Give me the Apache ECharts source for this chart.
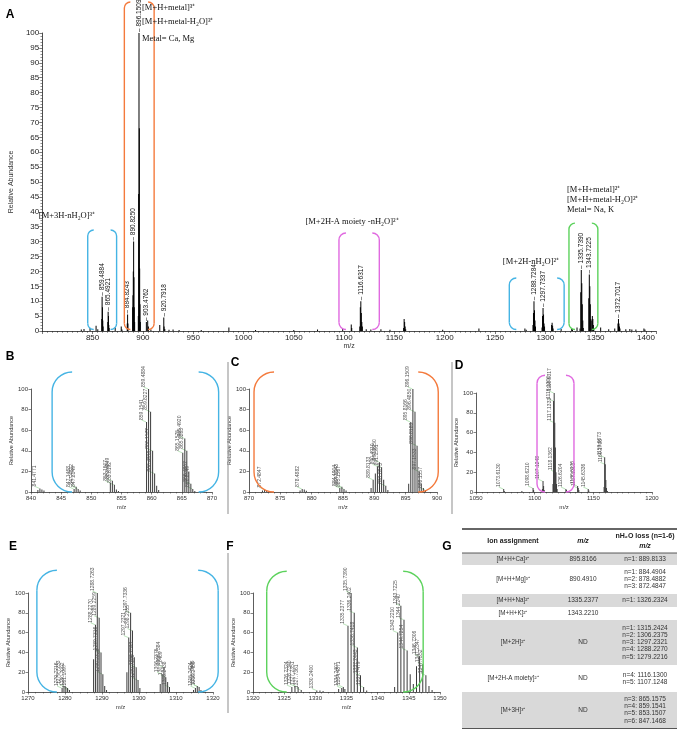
<!DOCTYPE html>
<html>
<head>
<meta charset="utf-8">
<script src="https://cdn.jsdelivr.net/npm/echarts@6/dist/echarts.min.js"></script>
<style>
html, body { margin: 0; padding: 0; background: #fff; }
#chart { width: 677px; height: 731px; }
</style>
</head>
<body>
<div id="chart"></div>
<script>
// peaks: [m/z, relative abundance, 1 = labelled]
var peaksA = [
  [838.8,0.5],[841.5,0.7],[847.5,1.0],[853.5,1.8],[855.2,0.6],
  [859.15,4],[859.4884,11.5,1],[859.82,8],[860.16,3.5],[860.5,1.5],
  [865.16,3],[865.4921,6.5,1],[865.83,5],[866.16,2],[866.5,1],
  [872.5,1.2],[878.5,1.5],[879.2,0.5],
  [884.49,2.5],[884.8243,5.5,1],[885.16,2.5],
  [889.81,8],[890.16,12],[890.49,20],[890.8250,30,1],[891.16,18],[891.49,8],[891.83,3],
  [895.48,5],[895.82,46],[896.1509,100,1],[896.49,68],[896.82,21],[897.15,9],[897.49,3],
  [903.4762,3,1],[904.8,3.5],[905.5,1.5],[908,0.5],
  [916.8,2],[920.7918,4.5,1],[921.1,1.5],[921.8,0.7],[926,0.4],[930,0.5],[936,0.3],[958,0.3],
  [985.5,1.2],[1012,0.3],[1050,0.3],[1073.6,0.5],[1098.6,0.8],
  [1107.12,2.2],[1107.6,1],
  [1115.63,1.5],[1116.13,8],[1116.6317,10,1],[1117.13,6],[1117.63,3],[1118.14,1.5],
  [1122,0.6],[1126.6,0.5],[1136.6,0.6],[1145.6,0.4],
  [1159.17,1],[1159.67,4],[1160.17,3],[1160.67,1.5],[1161.2,0.6],[1198,0.4],[1234,0.8],
  [1279.7,0.8],[1281,0.4],
  [1287.73,2],[1288.23,6],[1288.7284,10,1],[1289.23,7],[1289.73,3.5],[1290.23,1.5],
  [1296.73,1.2],[1297.23,5],[1297.7337,7.7,1],[1298.23,5.5],[1298.73,2.5],[1299.23,1.5],
  [1306.24,2],[1306.74,2.8],[1307.24,1.8],[1307.74,0.8],[1315.7,0.7],
  [1326.2,0.8],[1327,0.6],[1331.5,1.2],[1334.5,0.8],
  [1335.24,13],[1335.7390,20.5,1],[1336.24,16],[1336.74,9],[1337.24,3.5],[1337.74,1],
  [1343.22,11],[1343.7225,19,1],[1344.22,15],[1344.72,9],[1345.22,4],[1346.2,3.5],[1346.73,5],[1347.23,4],[1347.73,2],[1348.2,1],
  [1355,1.2],[1363,0.6],[1369,0.8],
  [1372.2,2.5],[1372.7017,4,1],[1373.2,2.5],[1373.7,1.5],[1374.2,0.8],
  [1380,0.6],[1384,0.7],[1386,0.5],[1390,0.5],[1398,0.8],[1399,0.5]
];
var peaksB = [
  [841.14,2],[841.4771,3.5,1],[841.81,2.5],[842.15,1.5],
  [847.1468,3,1],[847.4812,5,1],[847.8149,3,1],[848.15,1.5],
  [853.1507,9,1],[853.4849,11,1],[853.8192,7,1],[854.15,2.5],[854.49,1],
  [859.1541,68,1],[859.4884,100,1],[859.8227,78,1],[860.1572,40,1],[860.4916,18,1],[860.83,6],[861.16,2],
  [865.1575,38,1],[865.4920,52,1],[865.8263,40,1],[866.16,20],[866.4952,8,1],[866.8149,3,1],[867.15,1]
];
var peaksC = [
  [872.15,1.5],[872.4847,2.5,1],[872.82,1.5],
  [878.15,1.5],[878.4882,3,1],[878.82,2.5],[879.15,1.2],
  [884.4904,4,1],[884.8243,5,1],[885.1587,3,1],[885.49,1.5],
  [889.48,4],[889.8133,12,1],[890.16,18],[890.4910,25,1],[890.8250,29,1],[891.1591,24,1],[891.49,12],[891.8273,6,1],[892.16,2],
  [895.48,8],[895.8166,68,1],[896.1509,100,1],[896.4850,78,1],[896.8183,45,1],[897.1533,20,1],[897.49,8],[897.82,4],[898.1557,2,1]
];
var peaksD = [
  [1073.6130,3,1],[1074.1,1],[1089.1,1],[1098.6210,4,1],[1099.1,2],
  [1106.62,3],[1107.1248,11,1],[1107.62,6],[1108.12,2],
  [1115.63,8],[1116.1300,92,1],[1116.6317,100,1],[1117.1333,70,1],[1117.63,45],[1118.1362,20,1],[1118.64,8],[1119.14,3],
  [1126.6204,3,1],[1127.12,2],[1136.6275,6,1],[1137.1303,4,1],[1137.63,2],[1145.6336,3,1],[1146.13,1.5],
  [1159.17,5],[1159.6673,35,1],[1160.1706,28,1],[1160.67,12],[1161.17,4],[1162,1]
];
var peaksE = [
  [1279.2216,4,1],[1279.7233,6,1],[1280.22,5],[1280.7002,4,1],[1281.1997,2,1],
  [1287.73,33],[1288.2270,68,1],[1288.7263,100,1],[1289.2259,75,1],[1289.7316,40,1],[1290.2328,18,1],[1290.73,6],[1291.23,2],
  [1296.73,20],[1297.2321,55,1],[1297.7336,80,1],[1298.2355,62,1],[1298.73,35],[1299.2393,25,1],[1299.7396,12,1],[1300.24,4],
  [1305.74,8],[1306.2375,18,1],[1306.7384,25,1],[1307.2409,15,1],[1307.74,10],[1308.2438,5,1],
  [1314.74,2],[1315.2424,4,1],[1315.7446,6,1],[1316.2450,5,1],[1316.74,2]
];
var peaksF = [
  [1326.2324,5,1],[1326.7340,6,1],[1327.2351,5,1],[1327.7361,2,1],[1330.2400,1.5,1],[1330.74,1.5],[1331.24,1],
  [1333.74,3],[1334.2407,4,1],[1334.4871,5,1],[1334.74,3],
  [1335.2377,67,1],[1335.7390,100,1],[1336.2402,80,1],[1336.7418,45,1],[1337.2443,17,1],[1337.7479,5,1],[1338.24,1.5],
  [1342.72,5],[1343.2210,60,1],[1343.7225,87,1],[1344.2240,73,1],[1344.7254,42,1],[1345.22,18],[1345.72,8],
  [1346.23,26],[1346.7306,36,1],[1347.2347,28,1],[1347.7352,17,1],[1348.23,6],[1348.73,2]
];

// table G
var tableRows = [
  ['[M+H+Ca]³⁺', '895.8166', ['n=1: 889.8133']],
  ['[M+H+Mg]³⁺', '890.4910', ['n=1: 884.4904', 'n=2: 878.4882', 'n=3: 872.4847']],
  ['[M+H+Na]²⁺', '1335.2377', ['n=1: 1326.2324']],
  ['[M+H+K]²⁺', '1343.2210', []],
  ['[M+2H]²⁺', 'ND', ['n=1: 1315.2424', 'n=2: 1306.2375', 'n=3: 1297.2321', 'n=4: 1288.2270', 'n=5: 1279.2216']],
  ['[M+2H-A moiety]²⁺', 'ND', ['n=4: 1116.1300', 'n=5: 1107.1248']],
  ['[M+3H]³⁺', 'ND', ['n=3: 865.1575', 'n=4: 859.1541', 'n=5: 853.1507', 'n=6: 847.1468']]
];
var rowH = [12, 29, 13, 13, 45, 27, 36];

// brackets: [grid, left m/z, right m/z, bottom, top, radius px, colour]
var BLUE = '#45b4e4', ORANGE = '#f47a3c', PINK = '#e06ae0', GREEN = '#5cd25c';
var brackets = [
  [0, 845.2, 873.9, 0.5, 33.9, 6, BLUE],
  [0, 881.6, 911.2, 0.5, 110.4, 6, ORANGE],
  [0, 1094.9, 1135, 0.5, 32.9, 7, PINK],
  [0, 1264.2, 1318.7, 0.5, 17.8, 7, BLUE],
  [0, 1323.5, 1352.2, 0.5, 36.2, 6, GREEN],
  [1, 843.5, 871.1, 0, 116.5, 20, BLUE],
  [2, 870.8, 900.2, 0, 116.5, 20, ORANGE],
  [3, 1102, 1133.5, 0, 118, 8, PINK],
  [4, 1272.4, 1321.4, 0, 123, 20, BLUE],
  [5, 1322.2, 1347.3, 0, 122, 20, GREEN]
];

var SANS = 'Liberation Sans, Arial, sans-serif';
var SERIF = 'Liberation Serif, Times New Roman, serif';
function plain(v) { return String(v); }

var grids = [
  { left: 20, top: 33, width: 636, height: 298 },
  { left: 31, top: 389, width: 181, height: 103 },
  { left: 249, top: 389, width: 188, height: 103 },
  { left: 476, top: 393, width: 176, height: 99 },
  { left: 28, top: 593, width: 185, height: 99 },
  { left: 253, top: 593, width: 187, height: 99 }
];

function smallX(gi, min, max, interval, minor) {
  return {
    type: 'value', gridIndex: gi, min: min, max: max, interval: interval,
    name: 'm/z', nameLocation: 'middle', nameGap: 12,
    nameTextStyle: { fontSize: 6, color: '#333', fontFamily: SANS },
    axisLine: { lineStyle: { color: '#333', width: 0.8 } },
    axisTick: { length: 2.5, lineStyle: { color: '#333', width: 0.6 } },
    minorTick: { show: true, splitNumber: minor, length: 1.5, lineStyle: { color: '#333', width: 0.5 } },
    axisLabel: { fontSize: 6, color: '#333', margin: 3, fontFamily: SANS, formatter: plain },
    splitLine: { show: false }
  };
}
function smallY(gi) {
  return {
    type: 'value', gridIndex: gi, min: 0, max: 100, interval: 20,
    name: 'Relative Abundance', nameLocation: 'middle', nameGap: 17,
    nameTextStyle: { fontSize: 5.5, color: '#333', fontFamily: SANS },
    axisLine: { show: true, lineStyle: { color: '#333', width: 0.8 } },
    axisTick: { show: true, length: 2.5, lineStyle: { color: '#333', width: 0.6 } },
    axisLabel: { fontSize: 6, color: '#333', margin: 3, fontFamily: SANS },
    splitLine: { show: false }
  };
}
function stickData(peaks) {
  return peaks.map(function (p) {
    return { value: [p[0], p[1]], label: { show: !!p[2] } };
  });
}
function smallSeries(gi, peaks) {
  return {
    type: 'bar', xAxisIndex: gi, yAxisIndex: gi, barWidth: 1,
    itemStyle: { color: '#3a3a3a' },
    label: {
      show: false, position: 'top', rotate: 90, align: 'left', verticalAlign: 'middle',
      distance: 2, fontSize: 5, color: '#555', fontFamily: SANS,
      formatter: function (p) { return p.value[0].toFixed(4); }
    },
    labelLayout: { dy: -5 },
    labelLine: { show: true, lineStyle: { color: '#8fd38f', width: 0.6 } },
    data: stickData(peaks)
  };
}

var option = {
  animation: false,
  grid: grids,
  xAxis: [
    {
      type: 'value', gridIndex: 0, min: 800, max: 1410, interval: 50,
      name: 'm/z', nameLocation: 'middle', nameGap: 12,
      nameTextStyle: { fontSize: 7, color: '#333', fontFamily: SANS },
      axisLine: { lineStyle: { color: '#222', width: 0.8 } },
      axisTick: { length: 3, lineStyle: { color: '#222', width: 0.6 } },
      minorTick: { show: true, splitNumber: 10, length: 1.8, lineStyle: { color: '#222', width: 0.5 } },
      axisLabel: { fontSize: 8, color: '#222', margin: 3, showMinLabel: false, showMaxLabel: false, fontFamily: SANS, formatter: plain },
      splitLine: { show: false }
    },
    smallX(1, 840, 870, 5, 5),
    smallX(2, 870, 900, 5, 5),
    smallX(3, 1050, 1200, 50, 10),
    smallX(4, 1270, 1320, 10, 5),
    smallX(5, 1320, 1350, 5, 5)
  ],
  yAxis: [
    {
      type: 'value', gridIndex: 0, min: 0, max: 100, interval: 5,
      name: 'Relative Abundance', nameLocation: 'middle', nameGap: 17,
      nameTextStyle: { fontSize: 7, color: '#333', fontFamily: SANS },
      axisLine: { show: true, lineStyle: { color: '#222', width: 0.8 } },
      axisTick: { show: true, length: 3, lineStyle: { color: '#222', width: 0.6 } },
      minorTick: { show: true, splitNumber: 5, length: 1.8, lineStyle: { color: '#222', width: 0.5 } },
      axisLabel: { fontSize: 8, color: '#222', margin: 3, fontFamily: SANS },
      splitLine: { show: false }
    },
    smallY(1), smallY(2), smallY(3), smallY(4), smallY(5)
  ],
  series: [
    {
      type: 'bar', xAxisIndex: 0, yAxisIndex: 0, barWidth: 1,
      itemStyle: { color: '#000' },
      label: {
        show: false, position: 'top', rotate: 90, align: 'left', verticalAlign: 'middle',
        distance: 1, fontSize: 6.5, color: '#111', fontFamily: SANS,
        formatter: function (p) { return '– ' + p.value[0].toFixed(4); }
      },
      data: stickData(peaksA)
    },
    smallSeries(1, peaksB),
    smallSeries(2, peaksC),
    smallSeries(3, peaksD),
    smallSeries(4, peaksE),
    smallSeries(5, peaksF)
  ]
};

var chart = echarts.init(document.getElementById('chart'));
chart.setOption(option);

var graphics = [];
function txt(t, x, y, size, opts) {
  opts = opts || {};
  graphics.push({
    type: 'text', x: x, y: y, z: 10,
    style: {
      text: t, fontSize: size, fontFamily: opts.family || SANS,
      fontWeight: opts.weight || 'normal', fontStyle: opts.italic ? 'italic' : 'normal',
      fill: opts.color || '#111', align: opts.align || 'center', verticalAlign: 'middle'
    }
  });
}
function seg(x1, y1, x2, y2, color, w) {
  graphics.push({ type: 'line', z: 10, shape: { x1: x1, y1: y1, x2: x2, y2: y2 }, style: { stroke: color, lineWidth: w } });
}
function arc(cx, cy, r, a0, a1, color, w) {
  graphics.push({ type: 'arc', z: 10, shape: { cx: cx, cy: cy, r: r, startAngle: a0, endAngle: a1, clockwise: true },
    style: { stroke: color, lineWidth: w, fill: null } });
}

// brackets placed from data coordinates
brackets.forEach(function (b) {
  var p0 = chart.convertToPixel({ gridIndex: b[0] }, [b[1], b[4]]);
  var p1 = chart.convertToPixel({ gridIndex: b[0] }, [b[2], b[3]]);
  var L = p0[0], T = p0[1], R = p1[0], B = p1[1], r = b[5], c = b[6], w = 1.4;
  var PI = Math.PI;
  arc(L + r, T + r, r, PI, 1.5 * PI, c, w);
  arc(L + r, B - r, r, 0.5 * PI, PI, c, w);
  arc(R - r, T + r, r, 1.5 * PI, 2 * PI, c, w);
  arc(R - r, B - r, r, 0, 0.5 * PI, c, w);
  seg(L, T + r, L, B - r, c, w);
  seg(R, T + r, R, B - r, c, w);
});

// annotations of panel A
txt('[M+3H-nH₂O]³⁺', 67, 216, 8.5, { family: SERIF });
txt('[M+H+metal]³⁺', 142, 8, 8.5, { family: SERIF, align: 'left' });
txt('[M+H+metal-H₂O]³⁺', 142, 22, 8.5, { family: SERIF, align: 'left' });
txt('Metal= Ca, Mg', 142, 39, 8.5, { family: SERIF, align: 'left' });
txt('[M+2H-A moiety -nH₂O]²⁺', 352, 222, 8.5, { family: SERIF });
txt('[M+2H-nH₂O]²⁺', 531, 262, 8.5, { family: SERIF });
txt('[M+H+metal]²⁺', 567, 190, 8.5, { family: SERIF, align: 'left' });
txt('[M+H+metal-H₂O]²⁺', 567, 200, 8.5, { family: SERIF, align: 'left' });
txt('Metal= Na, K', 567, 210, 8.5, { family: SERIF, align: 'left' });

// panel letters
[['A', 10, 15], ['B', 10, 357], ['C', 235, 363], ['D', 459, 366], ['E', 13, 547], ['F', 230, 547], ['G', 447, 547]]
  .forEach(function (l) { txt(l[0], l[1], l[2], 12, { weight: 'bold', color: '#000' }); });

// panel separators
seg(228, 362, 228, 514, '#a0a0a0', 1.2);
seg(452, 362, 452, 514, '#a0a0a0', 1.2);
seg(228, 553, 228, 713, '#a0a0a0', 1.2);

// table G
var tx0 = 462, tx1 = 677, c1 = 513, c2 = 583, c3 = 645;
var y = 553;
tableRows.forEach(function (row, i) {
  var h = rowH[i];
  if (i % 2 === 0) {
    graphics.push({ type: 'rect', z: 5, shape: { x: tx0, y: y, width: tx1 - tx0, height: h }, style: { fill: '#d9d9d9' } });
  }
  var mid = y + h / 2;
  txt(row[0], c1, mid, 6.3, { color: '#333' });
  txt(row[1], c2, mid, 6.5, { color: '#333' });
  var n = row[2].length, lh = 7.2;
  row[2].forEach(function (s, k) {
    txt(s, c3, mid + (k - (n - 1) / 2) * lh, 6.5, { color: '#333' });
  });
  y += h;
});
seg(tx0, 529, tx1, 529, '#333', 1.5);
seg(tx0, 553, tx1, 553, '#333', 0.8);
seg(tx0, y + 0.5, tx1, y + 0.5, '#555', 1.2);
txt('Ion assignment', c1, 541, 7, { weight: 'bold', color: '#222' });
txt('m/z', c2, 541, 7, { weight: 'bold', italic: true, color: '#222' });
txt('nH₂O loss (n=1-6)', c3, 536, 7, { weight: 'bold', color: '#222' });
txt('m/z', c3, 546, 7, { weight: 'bold', italic: true, color: '#222' });

chart.setOption({ graphic: graphics });

window.onresize = function () { chart.resize(); };
</script>
</body>
</html>
